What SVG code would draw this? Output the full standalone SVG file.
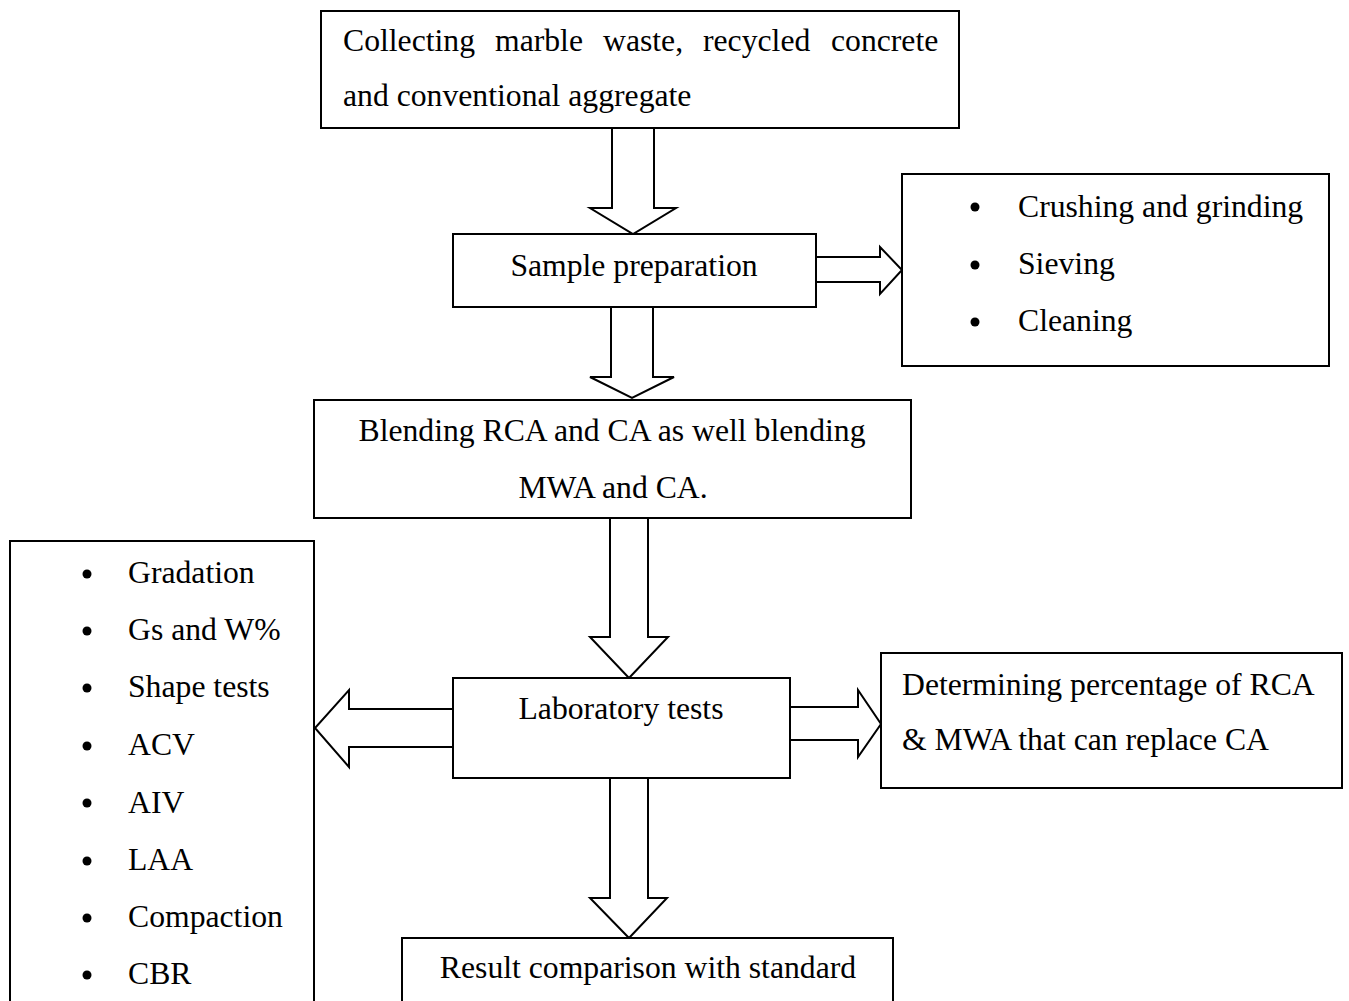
<svg xmlns="http://www.w3.org/2000/svg" width="1349" height="1001" viewBox="0 0 1349 1001">
<style>
.box{fill:#fff;stroke:#000;stroke-width:2}
.arr{fill:#fff;stroke:#000;stroke-width:2;stroke-linejoin:miter}
text{font-family:"Liberation Serif","Times New Roman",serif;font-size:31.7px;fill:#000}
.c{text-anchor:middle}
.dot{fill:#000}
</style>
<rect width="1349" height="1001" fill="#fff"/>
<g id="connectors">
<polygon class="arr" points="612,128 654,128 654,208 676,208 633,234 590,208 612,208"/>
<polygon class="arr" points="611,307 653,307 653,377 674,377 632,398 590,377 611,377"/>
<polygon class="arr" points="816,257 880,257 880,247 902,270 880,294 880,282 816,282"/>
<polygon class="arr" points="610,518 648,518 648,637 668,637 629,678 590,637 610,637"/>
<polygon class="arr" points="453,709 349,709 349,690 315,728 349,767 349,747 453,747"/>
<polygon class="arr" points="790,707 858,707 858,690 881,724 858,757 858,740 790,740"/>
<polygon class="arr" points="610,778 648,778 648,898 667,898 629,938 590,898 610,898"/>
</g>
<g id="node-collect">
<rect class="box" x="321" y="11" width="638" height="117"/>
<text y="51"><tspan x="343">Collecting</tspan><tspan x="495">marble</tspan><tspan x="603">waste,</tspan><tspan x="703">recycled</tspan><tspan x="831">concrete</tspan></text>
<text x="343" y="106">and conventional aggregate</text>
</g>
<g id="node-sample">
<rect class="box" x="453" y="234" width="363" height="73"/>
<text class="c" x="634" y="276">Sample preparation</text>
</g>
<g id="node-prep-list">
<rect class="box" x="902" y="174" width="427" height="192"/>
<circle class="dot" cx="975" cy="207" r="4.5"/>
<text x="1018" y="217">Crushing and grinding</text>
<circle class="dot" cx="975" cy="265" r="4.5"/>
<text x="1018" y="274">Sieving</text>
<circle class="dot" cx="975" cy="322" r="4.5"/>
<text x="1018" y="331">Cleaning</text>
</g>
<g id="node-blend">
<rect class="box" x="314" y="400" width="597" height="118"/>
<text class="c" x="612" y="441">Blending RCA and CA as well blending</text>
<text class="c" x="613" y="498">MWA and CA.</text>
</g>
<g id="node-lab">
<rect class="box" x="453" y="678" width="337" height="100"/>
<text class="c" x="621" y="719">Laboratory tests</text>
</g>
<g id="node-determine">
<rect class="box" x="881" y="653" width="461" height="135"/>
<text x="902" y="695">Determining percentage of RCA</text>
<text x="902" y="750">&amp; MWA that can replace CA</text>
</g>
<g id="node-tests-list">
<rect class="box" x="10" y="541" width="304" height="480"/>
<circle class="dot" cx="87" cy="574" r="4.5"/>
<text x="128" y="583">Gradation</text>
<circle class="dot" cx="87" cy="631" r="4.5"/>
<text x="128" y="640">Gs and W%</text>
<circle class="dot" cx="87" cy="688" r="4.5"/>
<text x="128" y="697">Shape tests</text>
<circle class="dot" cx="87" cy="746" r="4.5"/>
<text x="128" y="755">ACV</text>
<circle class="dot" cx="87" cy="803" r="4.5"/>
<text x="128" y="813">AIV</text>
<circle class="dot" cx="87" cy="861" r="4.5"/>
<text x="128" y="870">LAA</text>
<circle class="dot" cx="87" cy="918" r="4.5"/>
<text x="128" y="927">Compaction</text>
<circle class="dot" cx="87" cy="975" r="4.5"/>
<text x="128" y="984">CBR</text>
</g>
<g id="node-result">
<rect class="box" x="402" y="938" width="491" height="90"/>
<text class="c" x="648" y="978">Result comparison with standard</text>
</g>
</svg>
